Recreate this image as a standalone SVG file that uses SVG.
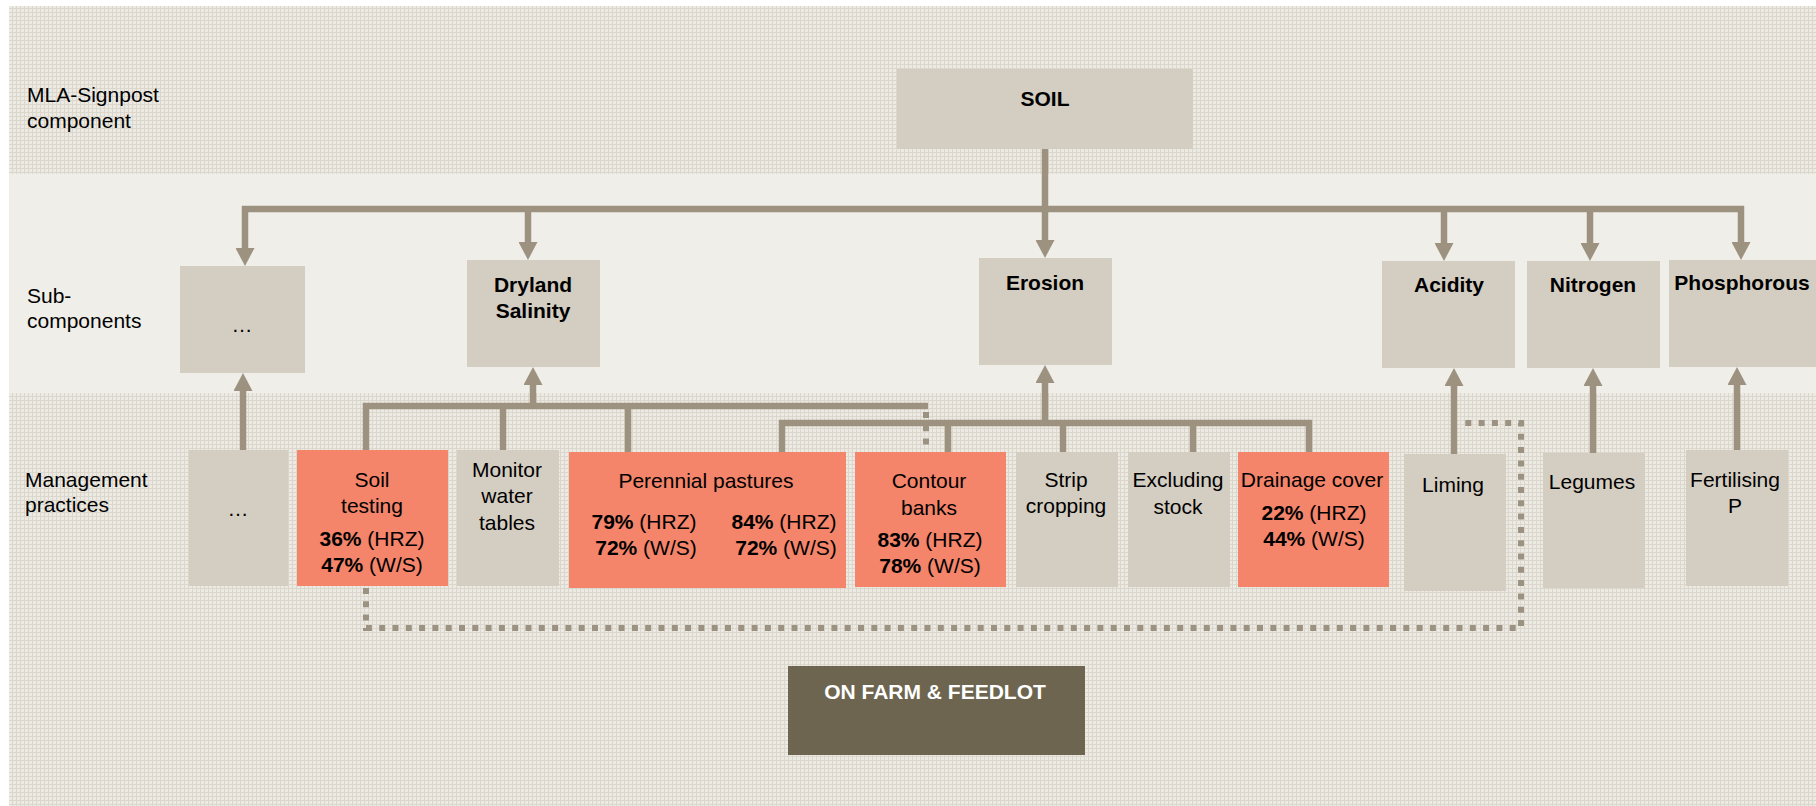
<svg xmlns="http://www.w3.org/2000/svg" width="1816" height="806" viewBox="0 0 1816 806">
<style>
text{font-family:"Liberation Sans",Arial,sans-serif;font-size:21px;fill:#000;text-anchor:middle}
.lbl{text-anchor:start}
.b{font-weight:bold}
.g{fill:#d4cdc1}
.o{fill:#f4846a}
.c{fill:none;stroke:#9d927f;stroke-width:6.5}
.d{fill:none;stroke:#9c9281;stroke-width:6;stroke-dasharray:6 7.3}
</style>
<defs>
<pattern id="tex" width="4" height="4" patternUnits="userSpaceOnUse">
<rect width="4" height="4" fill="#edeae4"/>
<rect width="4" height="1" fill="#dcd7cd"/>
<rect width="1" height="4" fill="#dcd7cd"/>
</pattern>
<marker id="ah" markerUnits="userSpaceOnUse" markerWidth="18" markerHeight="19" viewBox="0 0 18 19" refX="1" refY="9.5" orient="auto">
<path d="M0,0 L18,9.5 L0,19 z" fill="#9d927f"/>
</marker>
</defs>
<rect width="1816" height="806" fill="#ffffff"/>
<rect x="9" y="6" width="1807" height="168" fill="url(#tex)"/>
<rect x="9" y="174" width="1807" height="219" fill="#efeee9"/>
<rect x="9" y="393" width="1807" height="413" fill="url(#tex)"/>

<g id="row-labels">
<text class="lbl" x="27" y="102">MLA-Signpost</text>
<text class="lbl" x="27" y="128">component</text>
<text class="lbl" x="27" y="303">Sub-</text>
<text class="lbl" x="27" y="328">components</text>
<text class="lbl" x="25" y="487">Management</text>
<text class="lbl" x="25" y="512">practices</text>
</g>

<g id="connectors">
<path class="c" d="M242,209 H1744"/>
<path class="c" d="M245,206 V249" marker-end="url(#ah)"/>
<path class="c" d="M528,206 V243" marker-end="url(#ah)"/>
<path class="c" d="M1045,149 V241" marker-end="url(#ah)"/>
<path class="c" d="M1444,206 V244" marker-end="url(#ah)"/>
<path class="c" d="M1590,206 V244" marker-end="url(#ah)"/>
<path class="c" d="M1741,206 V243" marker-end="url(#ah)"/>
<path class="c" d="M243,450 V390" marker-end="url(#ah)"/>
<path class="c" d="M533,406 V384" marker-end="url(#ah)"/>
<path class="c" d="M1045,423 V382" marker-end="url(#ah)"/>
<path class="c" d="M1454,454 V385" marker-end="url(#ah)"/>
<path class="c" d="M1593,453 V385" marker-end="url(#ah)"/>
<path class="c" d="M1737,450 V384" marker-end="url(#ah)"/>
<path class="c" d="M366,450 V406 H928"/>
<path class="c" d="M503,406 V450"/>
<path class="c" d="M628,406 V452"/>
<path class="c" d="M782,452 V423 H1309 V452"/>
<path class="c" d="M948,423 V452"/>
<path class="c" d="M1063,423 V452"/>
<path class="c" d="M1193,423 V452"/>
<path class="d" d="M926,412 V452"/>
<path class="d" d="M366,588 V628 H1521 V423 H1458"/>
</g>

<g id="soil"><rect class="g" x="897" y="69" width="296" height="80"/><text class="b" x="1045" y="106" font-size="22">SOIL</text></g>

<g id="sub-other"><rect class="g" x="180" y="266" width="125" height="107"/><text x="242" y="332" font-size="26">…</text></g>
<g id="dryland-salinity"><rect class="g" x="467" y="260" width="133" height="107"/><text class="b" x="533" y="292">Dryland</text><text class="b" x="533" y="318">Salinity</text></g>
<g id="erosion"><rect class="g" x="979" y="258" width="133" height="107"/><text class="b" x="1045" y="290">Erosion</text></g>
<g id="acidity"><rect class="g" x="1382" y="261" width="133" height="107"/><text class="b" x="1449" y="292">Acidity</text></g>
<g id="nitrogen"><rect class="g" x="1527" y="261" width="133" height="107"/><text class="b" x="1593" y="292">Nitrogen</text></g>
<g id="phosphorous"><rect class="g" x="1669" y="260" width="147" height="107"/><text class="b" x="1742" y="290">Phosphorous</text></g>

<g id="mgmt-other"><rect class="g" x="189" y="450" width="99" height="136"/><text x="238" y="516" font-size="26">…</text></g>
<g id="soil-testing"><rect class="o" x="297" y="450" width="151" height="136"/>
<text x="372" y="487">Soil</text><text x="372" y="513">testing</text>
<text x="372" y="546"><tspan class="b">36%</tspan> (HRZ)</text>
<text x="372" y="572"><tspan class="b">47%</tspan> (W/S)</text></g>
<g id="monitor-water-tables"><rect class="g" x="457" y="450" width="102" height="136"/>
<text x="507" y="477">Monitor</text><text x="507" y="503">water</text><text x="507" y="530">tables</text></g>
<g id="perennial-pastures"><rect class="o" x="569" y="452" width="277" height="136"/>
<text x="706" y="488">Perennial pastures</text>
<text x="644" y="529"><tspan class="b">79%</tspan> (HRZ)</text>
<text x="646" y="555"><tspan class="b">72%</tspan> (W/S)</text>
<text x="784" y="529"><tspan class="b">84%</tspan> (HRZ)</text>
<text x="786" y="555"><tspan class="b">72%</tspan> (W/S)</text></g>
<g id="contour-banks"><rect class="o" x="855" y="452" width="151" height="135"/>
<text x="929" y="488">Contour</text><text x="929" y="515">banks</text>
<text x="930" y="547"><tspan class="b">83%</tspan> (HRZ)</text>
<text x="930" y="573"><tspan class="b">78%</tspan> (W/S)</text></g>
<g id="strip-cropping"><rect class="g" x="1016" y="452" width="102" height="135"/>
<text x="1066" y="487">Strip</text><text x="1066" y="513">cropping</text></g>
<g id="excluding-stock"><rect class="g" x="1128" y="452" width="102" height="135"/>
<text x="1178" y="487">Excluding</text><text x="1178" y="514">stock</text></g>
<g id="drainage-cover"><rect class="o" x="1238" y="452" width="151" height="135"/>
<text x="1312" y="487">Drainage cover</text>
<text x="1314" y="520"><tspan class="b">22%</tspan> (HRZ)</text>
<text x="1314" y="546"><tspan class="b">44%</tspan> (W/S)</text></g>
<g id="liming"><rect class="g" x="1404" y="454" width="102" height="137"/><text x="1453" y="492">Liming</text></g>
<g id="legumes"><rect class="g" x="1543" y="453" width="102" height="135"/><text x="1592" y="489">Legumes</text></g>
<g id="fertilising-p"><rect class="g" x="1686" y="450" width="102" height="136"/><text x="1735" y="487">Fertilising</text><text x="1735" y="513">P</text></g>

<g id="on-farm-feedlot"><rect x="788" y="666" width="297" height="89" fill="#6d6550"/><text class="b" x="935" y="699" font-size="24" style="fill:#ffffff">ON FARM &amp; FEEDLOT</text></g>
</svg>
